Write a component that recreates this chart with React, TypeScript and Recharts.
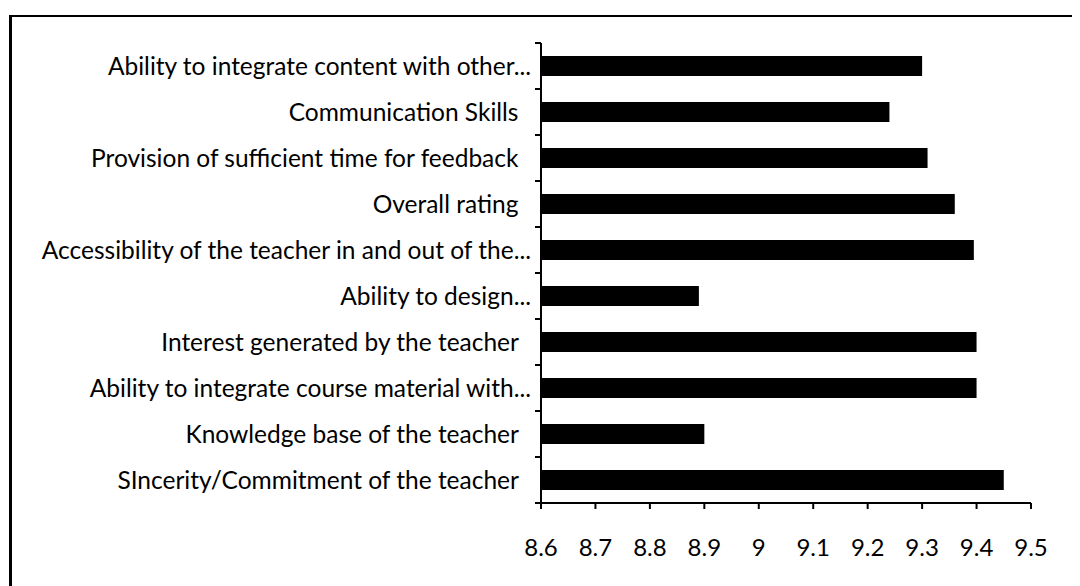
import React from 'react';
import { BarChart, Bar, XAxis, YAxis } from 'recharts';

const categories = [
  'Ability to integrate content with other...',
  'Communication Skills  ',
  'Provision of sufficient time for feedback  ',
  'Overall rating  ',
  'Accessibility of the teacher in and out of the...',
  'Ability to design...',
  'Interest generated by the teacher  ',
  'Ability to integrate course material with...',
  'Knowledge base of the teacher  ',
  'SIncerity/Commitment of the teacher  ',
];

const scores = [9.3, 9.24, 9.31, 9.36, 9.395, 8.89, 9.4, 9.4, 8.9, 9.45];

const xTicks = [8.6, 8.7, 8.8, 8.9, 9, 9.1, 9.2, 9.3, 9.4, 9.5];

const data = categories.map((name, i) => ({ name, score: scores[i] }));

const FONT = 'Lato, "Open Sans", sans-serif';

const CategoryTick = (props: any) => {
  const { x, y, payload, index, visibleTicksCount } = props;
  const half = payload && payload.offset ? payload.offset : 23;
  const axisX = x + 10;
  return (
    <g>
      <line x1={axisX - 6} x2={axisX} y1={y - half} y2={y - half} stroke="#000" strokeWidth={2} />
      {index === visibleTicksCount - 1 && (
        <line x1={axisX - 6} x2={axisX} y1={y + half} y2={y + half} stroke="#000" strokeWidth={2} />
      )}
      <text
        x={x}
        y={y}
        dy="0.355em"
        textAnchor="end"
        fill="#000"
        fontSize={24.5}
        fontFamily={FONT}
        style={{ whiteSpace: 'pre' }}
      >
        {payload.value}
      </text>
    </g>
  );
};

export default function App() {
  return (
    <div style={{ position: 'relative', width: 1072, height: 578, background: '#fff' }}>
      <div
        style={{
          position: 'absolute',
          left: 1,
          top: 7,
          width: 1100,
          height: 600,
          borderTop: '2px solid #000',
          borderLeft: '3px solid #000',
        }}
      />
      <div style={{ position: 'absolute', left: 0, top: 0 }}>
        <BarChart
          width={1072}
          height={578}
          data={data}
          layout="vertical"
          barSize={20}
          margin={{ top: 35, right: 49, bottom: 23, left: 0 }}
        >
          <XAxis
            type="number"
            domain={[8.6, 9.5]}
            ticks={xTicks}
            interval={0}
            allowDataOverflow
            height={60}
            tickSize={6}
            tickMargin={30}
            tick={{ fill: '#000', fontSize: 24, fontFamily: FONT }}
            tickFormatter={(v: number) => String(v)}
            axisLine={{ stroke: '#000', strokeWidth: 2 }}
            tickLine={{ stroke: '#000', strokeWidth: 2 }}
          />
          <YAxis
            type="category"
            dataKey="name"
            width={533}
            interval={0}
            tickSize={0}
            tickMargin={10}
            tick={<CategoryTick />}
            axisLine={{ stroke: '#000', strokeWidth: 2 }}
            tickLine={false}
          />
          <Bar dataKey="score" fill="#000" isAnimationActive={false} />
        </BarChart>
      </div>
    </div>
  );
}
